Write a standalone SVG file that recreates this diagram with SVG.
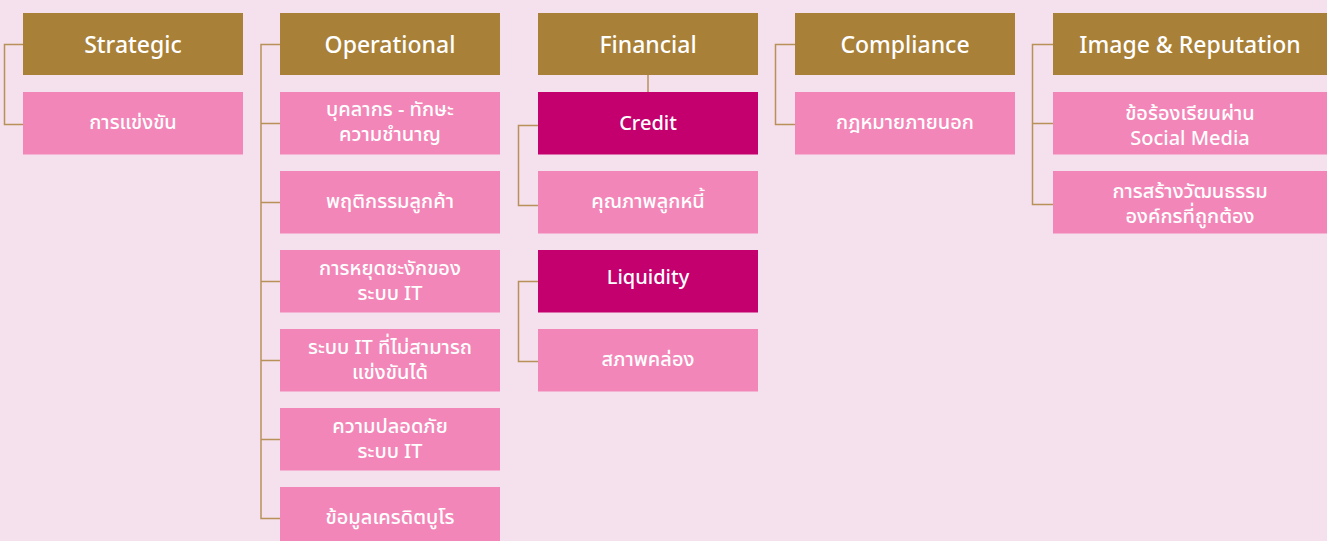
<svg xmlns="http://www.w3.org/2000/svg" width="1327" height="541" viewBox="0 0 1327 541">
<style>
.bg{fill:#f4e1ed}
.h{fill:#a88037}
.p{fill:#f386b8}
.m{fill:#c4006f}
.ht{font-family:"Noto Sans","Noto Sans Thai","Liberation Sans",sans-serif;font-size:23px;font-weight:500;fill:#ffffff;text-anchor:middle}
.t{font-family:"Noto Sans","Noto Sans Thai","Liberation Sans",sans-serif;font-size:20px;font-weight:500;fill:#ffffff;text-anchor:middle}
.c{fill:none;stroke:#b8915a;stroke-width:1.5}
</style>
<rect class="bg" x="0" y="0" width="1327" height="541"/>
<g id="connectors">
<path class="c" d="M23,44.5 H4.5 V124.5 H23"/>
<path class="c" d="M280,44.5 H261 V518.5 H280 M261,123.5 H280 M261,202.5 H280 M261,281.5 H280 M261,360.5 H280 M261,439.5 H280"/>
<path class="c" d="M648,75 V92"/>
<path class="c" d="M538,125.5 H518.5 V205.5 H538"/>
<path class="c" d="M538,281.5 H518.5 V361.5 H538"/>
<path class="c" d="M795,44.5 H775.5 V124.5 H795"/>
<path class="c" d="M1053,44.5 H1032.5 V204.5 H1053 M1032.5,123.5 H1053"/>
</g>
<g id="strategic"><rect class="h" x="23" y="13" width="220" height="62"/><text class="ht" x="133" y="53">Strategic</text></g>
<g id="s1"><rect class="p" x="23" y="92" width="220" height="62.5"/><text class="t" x="133" y="129">การแข่งขัน</text></g>
<g id="operational"><rect class="h" x="280" y="13" width="220" height="62"/><text class="ht" x="390" y="53">Operational</text></g>
<g id="o1"><rect class="p" x="280" y="92" width="220" height="62.5"/><text class="t" x="390" y="116">บุคลากร - ทักษะ</text><text class="t" x="390" y="141">ความชำนาญ</text></g>
<g id="o2"><rect class="p" x="280" y="171" width="220" height="62.5"/><text class="t" x="390" y="208">พฤติกรรมลูกค้า</text></g>
<g id="o3"><rect class="p" x="280" y="250" width="220" height="62.5"/><text class="t" x="390" y="275">การหยุดชะงักของ</text><text class="t" x="390" y="300">ระบบ IT</text></g>
<g id="o4"><rect class="p" x="280" y="329" width="220" height="62.5"/><text class="t" x="390" y="354">ระบบ IT ที่ไม่สามารถ</text><text class="t" x="390" y="379">แข่งขันได้</text></g>
<g id="o5"><rect class="p" x="280" y="408" width="220" height="62.5"/><text class="t" x="390" y="433">ความปลอดภัย</text><text class="t" x="390" y="458">ระบบ IT</text></g>
<g id="o6"><rect class="p" x="280" y="487" width="220" height="62.5"/><text class="t" x="390" y="524">ข้อมูลเครดิตบูโร</text></g>
<g id="financial"><rect class="h" x="538" y="13" width="220" height="62"/><text class="ht" x="648" y="53">Financial</text></g>
<g id="credit"><rect class="m" x="538" y="92" width="220" height="62.5"/><text class="t" x="648" y="130">Credit</text></g>
<g id="f1"><rect class="p" x="538" y="171" width="220" height="62.5"/><text class="t" x="648" y="208">คุณภาพลูกหนี้</text></g>
<g id="liquidity"><rect class="m" x="538" y="250" width="220" height="62.5"/><text class="t" x="648" y="284">Liquidity</text></g>
<g id="f2"><rect class="p" x="538" y="329" width="220" height="62.5"/><text class="t" x="648" y="366">สภาพคล่อง</text></g>
<g id="compliance"><rect class="h" x="795" y="13" width="220" height="62"/><text class="ht" x="905" y="53">Compliance</text></g>
<g id="c1"><rect class="p" x="795" y="92" width="220" height="62.5"/><text class="t" x="905" y="129">กฎหมายภายนอก</text></g>
<g id="image"><rect class="h" x="1053" y="13" width="274" height="62"/><text class="ht" x="1190" y="53">Image &amp; Reputation</text></g>
<g id="i1"><rect class="p" x="1053" y="92" width="274" height="62.5"/><text class="t" x="1190" y="120">ข้อร้องเรียนผ่าน</text><text class="t" x="1190" y="145">Social Media</text></g>
<g id="i2"><rect class="p" x="1053" y="171" width="274" height="62.5"/><text class="t" x="1190" y="198">การสร้างวัฒนธรรม</text><text class="t" x="1190" y="223">องค์กรที่ถูกต้อง</text></g>
</svg>
